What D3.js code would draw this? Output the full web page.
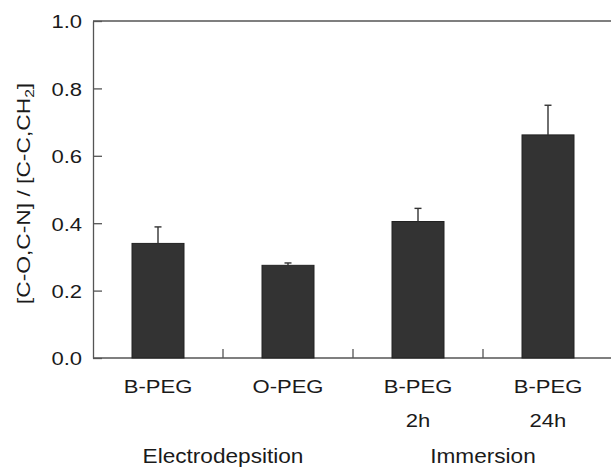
<!DOCTYPE html>
<html>
<head>
<meta charset="utf-8">
<script src="https://cdn.jsdelivr.net/npm/d3@7"></script>
<style>
  html, body { margin: 0; padding: 0; background: #fff; }
  svg { display: block; }
  text { font-family: "Liberation Sans", Arial, Helvetica, sans-serif; fill: #1a1a1a; }
</style>
</head>
<body>
<svg id="chart" width="611" height="467"></svg>
<script>
// Sample names, second label lines and group names
const categories = ["B-PEG", "O-PEG", "B-PEG 2h", "B-PEG 24h"];
const labelLine1 = ["B-PEG", "O-PEG", "B-PEG", "B-PEG"];
const labelLine2 = ["", "", "2h", "24h"];
const groups = ["Electrodepsition", "Immersion"];
// Ratio of [C-O,C-N] to [C-C,CH2] and its error (upper bar only)
const ratios = [0.34, 0.275, 0.405, 0.662];
const errors = [0.049, 0.007, 0.039, 0.088];
const yTicks = [0.0, 0.2, 0.4, 0.6, 0.8, 1.0];

const svg = d3.select("#chart");
const W = 611;
const plotLeft = 93, plotRight = 613, plotTop = 21, plotBottom = 358;
const wide = 1.16;   // horizontal widening of the label glyphs

const x = d3.scaleBand().domain(categories).range([plotLeft, plotRight])
  .paddingInner(0.6).paddingOuter(0.3);
const y = d3.scaleLinear().domain([0, 1]).range([plotBottom, plotTop]);
const axisColor = "#555";

// frame: top border line
svg.append("line")
  .attr("x1", plotLeft).attr("x2", W)
  .attr("y1", y(1)).attr("y2", y(1))
  .attr("stroke", axisColor).attr("stroke-width", 1.3);

// y axis with inward ticks
const yAxis = svg.append("g").attr("transform", `translate(${plotLeft},0)`)
  .call(d3.axisLeft(y).tickValues(yTicks).tickFormat(d3.format(".1f"))
    .tickSizeInner(-9).tickSizeOuter(0).tickPadding(11));
yAxis.select(".domain").attr("stroke", axisColor).attr("stroke-width", 1.3);
yAxis.selectAll(".tick line").attr("stroke", axisColor).attr("stroke-width", 1.3);
yAxis.selectAll(".tick text")
  .attr("font-size", 19)
  .attr("fill", "#1a1a1a")
  .attr("dy", "0.36em")
  .attr("x", -11 / wide)
  .attr("transform", `scale(${wide},1)`)
  .style("font-family", "Liberation Sans, Arial, sans-serif");

// x axis baseline
svg.append("line")
  .attr("x1", plotLeft).attr("x2", W)
  .attr("y1", y(0)).attr("y2", y(0))
  .attr("stroke", axisColor).attr("stroke-width", 1.3);

// dividers between categories
const step = x.step();
const centers = categories.map(c => x(c) + x.bandwidth() / 2);
svg.append("g").selectAll("line")
  .data(centers.slice(0, -1))
  .join("line")
  .attr("x1", d => d + step / 2).attr("x2", d => d + step / 2)
  .attr("y1", y(0)).attr("y2", y(0) - 9)
  .attr("stroke", axisColor).attr("stroke-width", 1.3);

// bars
svg.append("g").selectAll("rect")
  .data(categories)
  .join("rect")
  .attr("x", d => x(d))
  .attr("width", x.bandwidth())
  .attr("y", (d, i) => y(ratios[i]))
  .attr("height", (d, i) => y(0) - y(ratios[i]))
  .attr("fill", "#333")
  .attr("stroke", "#222")
  .attr("stroke-width", 1);

// upper error bars
const err = svg.append("g").attr("stroke", "#333").attr("stroke-width", 1.4);
categories.forEach((c, i) => {
  const cx = centers[i];
  err.append("line")
    .attr("x1", cx).attr("x2", cx)
    .attr("y1", y(ratios[i])).attr("y2", y(ratios[i] + errors[i]));
  err.append("line")
    .attr("x1", cx - 3.5).attr("x2", cx + 3.5)
    .attr("y1", y(ratios[i] + errors[i])).attr("y2", y(ratios[i] + errors[i]));
});

function label(parent, str, cx, base, size) {
  parent.append("text")
    .attr("transform", `translate(${cx},${base}) scale(${wide},1)`)
    .attr("text-anchor", "middle")
    .attr("font-size", size)
    .text(str);
}

// category labels
const lab = svg.append("g");
categories.forEach((c, i) => {
  label(lab, labelLine1[i], centers[i], 392.5, 19);
  if (labelLine2[i]) label(lab, labelLine2[i], centers[i], 426.5, 19);
});

// group labels, centred between their two samples
const grp = svg.append("g");
groups.forEach((g, k) => {
  const cx = (centers[2 * k] + centers[2 * k + 1]) / 2;
  label(grp, g, cx, 463, 19.5);
});

// y axis title
const title = svg.append("text")
  .attr("transform", `translate(30,${(plotTop + plotBottom) / 2 + 4}) rotate(-90) scale(1.2,1)`)
  .attr("text-anchor", "middle")
  .attr("font-size", 19);
title.append("tspan").text("[C-O,C-N] / [C-C,CH");
title.append("tspan").attr("font-size", 13).attr("dy", 4).text("2");
title.append("tspan").attr("dy", -4).text("]");
</script>
</body>
</html>
